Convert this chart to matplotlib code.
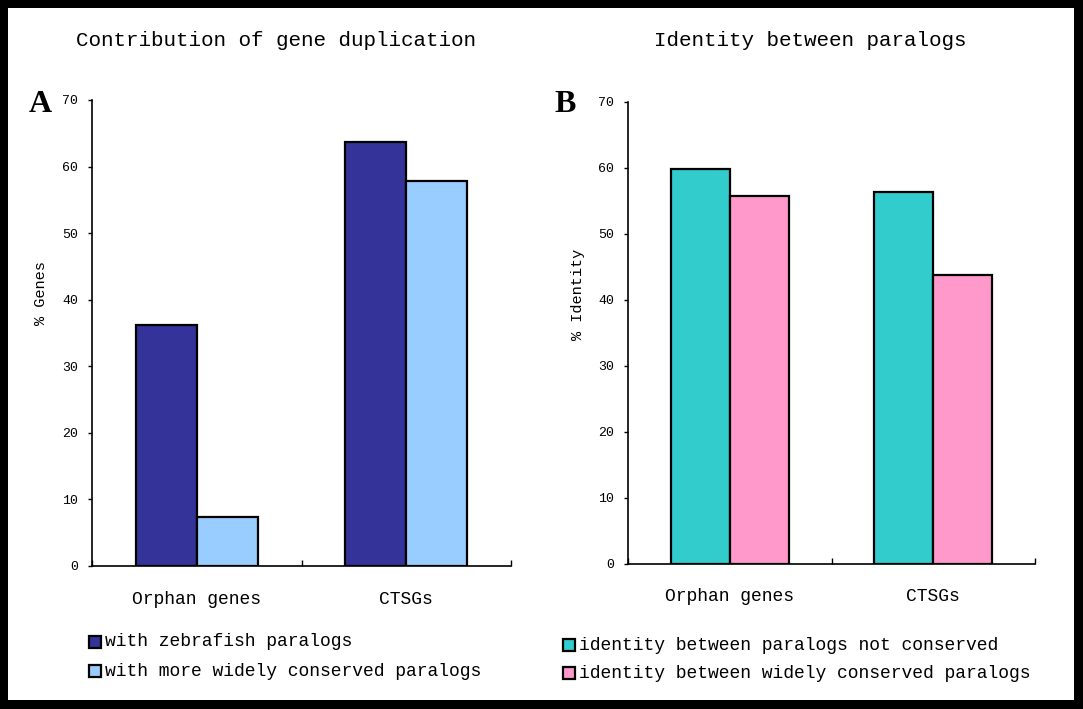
import matplotlib
matplotlib.use("Agg")
import matplotlib.pyplot as plt
from matplotlib.patches import Rectangle

categories = ["Orphan genes", "CTSGs"]
a_series = ["with zebrafish paralogs", "with more widely conserved paralogs"]
a_values = [[36.2, 63.7], [7.4, 57.8]]
a_colors = ["#333399", "#99CCFF"]
b_series = ["identity between paralogs not conserved", "identity between widely conserved paralogs"]
b_values = [[59.8, 56.3], [55.8, 43.8]]
b_colors = ["#33CCCC", "#FF99CC"]
yticks = [0, 10, 20, 30, 40, 50, 60, 70]

W, H = 1083, 709
fig = plt.figure(figsize=(W / 100, H / 100), dpi=100)
fig.patch.set_facecolor("black")
fig.patches.append(Rectangle((8 / W, 1 - 700 / H), (1074 - 8) / W, (700 - 8) / H,
                             transform=fig.transFigure, facecolor="white", edgecolor="none", zorder=-10))

MONO = "Liberation Mono"

def px(x, y):
    return x / W, 1 - y / H

def make_axes(l, r, b, t):
    ax = fig.add_axes([l / W, 1 - b / H, (r - l) / W, (b - t) / H])
    ax.set_zorder(1)
    return ax

def draw_panel(ax, values, colors, ylabel, ylab_xy, xpad):
    ax.set_facecolor("none")
    n = len(values)
    bw = 0.29
    for i, (vals, col) in enumerate(zip(values, colors)):
        xs = [k + 0.5 - bw * n / 2 + i * bw for k in range(len(categories))]
        ax.bar(xs, vals, width=bw, align="edge", color=col, edgecolor="black", linewidth=1.6, zorder=3)
    ax.set_xlim(0, len(categories))
    ax.set_ylim(0, 70)
    ax.set_yticks(yticks)
    ax.set_yticklabels([str(v) for v in yticks], fontfamily=MONO, fontsize=9.5)
    ax.set_xticks([k + 0.5 for k in range(len(categories))])
    ax.set_xticklabels(categories, fontfamily=MONO, fontsize=13)
    ax.set_xticks(list(range(len(categories) + 1)), minor=True)
    ax.tick_params(axis="x", which="major", length=0, pad=xpad)
    ax.tick_params(axis="x", which="minor", direction="in", length=4, width=1)
    ax.tick_params(axis="y", direction="out", length=3, width=1, pad=7)
    for s in ["top", "right"]:
        ax.spines[s].set_visible(False)
    for s in ["left", "bottom"]:
        ax.spines[s].set_linewidth(1.2)
    fig.text(*px(*ylab_xy), ylabel, rotation=90, ha="center", va="center",
             fontfamily=MONO, fontsize=11)

axA = make_axes(92, 511, 566, 100)
draw_panel(axA, a_values, a_colors, "% Genes", (41, 293), 18)
axB = make_axes(628, 1035, 564, 102)
draw_panel(axB, b_values, b_colors, "% Identity", (578, 294), 17)

fig.text(*px(276, 41), "Contribution of gene duplication", ha="center", va="center",
         fontfamily=MONO, fontsize=15)
fig.text(*px(810, 41), "Identity between paralogs", ha="center", va="center",
         fontfamily=MONO, fontsize=15)
fig.text(*px(40, 105), "A", ha="center", va="center", fontfamily="Liberation Serif",
         fontweight="bold", fontsize=23)
fig.text(*px(565, 105), "B", ha="center", va="center", fontfamily="Liberation Serif",
         fontweight="bold", fontsize=23)

def legend(x0, ys, labels, colors):
    for y, lab, col in zip(ys, labels, colors):
        fig.patches.append(Rectangle(px(x0, y + 6), 12 / W, 12 / H, transform=fig.transFigure,
                                     facecolor=col, edgecolor="black", linewidth=1.6, zorder=5))
        fig.text(*px(x0 + 16, y), lab, ha="left", va="center", fontfamily=MONO, fontsize=13)

legend(89, [642, 671], a_series, a_colors)
legend(563, [645, 673], b_series, b_colors)

fig.savefig("out.png", dpi=100, facecolor=fig.get_facecolor())
